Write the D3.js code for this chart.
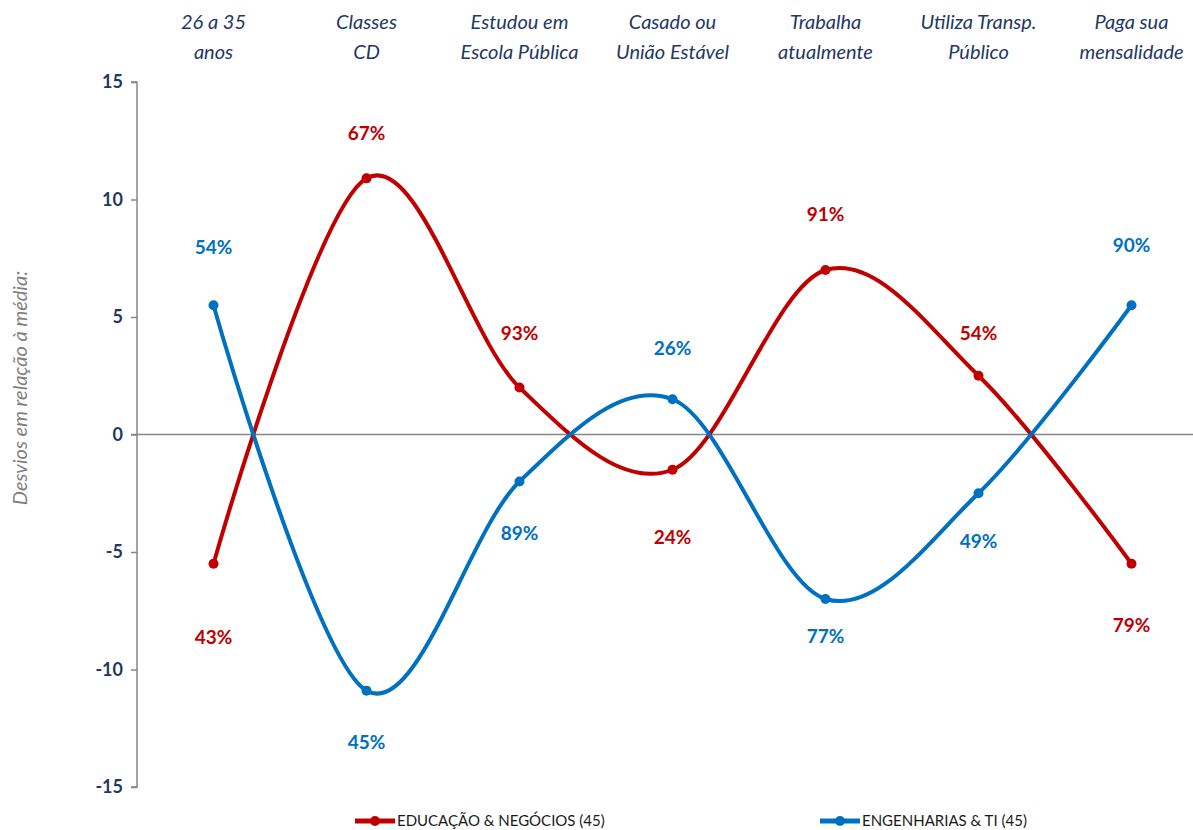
<!DOCTYPE html>
<html>
<head>
<meta charset="utf-8">
<script src="https://d3js.org/d3.v7.min.js"></script>
<style>
  body { margin: 0; background: #fff; }
  svg { display: block; font-family: Lato, "Open Sans", sans-serif; }
</style>
</head>
<body>
<svg id="chart" width="1193" height="830"></svg>
<script>
// ── Data ──
const categories = [
  ['26 a 35', 'anos'],
  ['Classes', 'CD'],
  ['Estudou em', 'Escola Pública'],
  ['Casado ou', 'União Estável'],
  ['Trabalha', 'atualmente'],
  ['Utiliza Transp.', 'Público'],
  ['Paga sua', 'mensalidade']
];
const eduValues = [-5.5, 10.9, 2, -1.5, 7, 2.5, -5.5];
const eduLabels = ['43%', '67%', '93%', '24%', '91%', '54%', '79%'];
const engValues = [5.5, -10.9, -2, 1.5, -7, -2.5, 5.5];
const engLabels = ['54%', '45%', '89%', '26%', '77%', '49%', '90%'];
const yTicks = [15, 10, 5, 0, -5, -10, -15];

// label offsets (layout only)
const eduLabelDy = [75, -43, -52, 69, -54, -41, 63];
const engLabelDy = [-56, 53, 54, -49, 39, 50, -58];

const series = [
  { name: 'EDUCAÇÃO & NEGÓCIOS (45)', values: eduValues, labels: eduLabels, dy: eduLabelDy, color: '#C00000', legendX: 355 },
  { name: 'ENGENHARIAS & TI (45)', values: engValues, labels: engLabels, dy: engLabelDy, color: '#0070C0', legendX: 820 }
];

const svg = d3.select('#chart');
const x = d3.scalePoint().domain(d3.range(categories.length)).range([137, 1208]).padding(0.5);
const y = d3.scaleLinear().domain([-15, 15]).range([787, 82]);

// y axis
const yAxis = d3.axisLeft(y).tickValues(yTicks).tickSize(6).tickPadding(8).tickFormat(d => String(d));
const ya = svg.append('g').attr('transform', 'translate(137,0)').call(yAxis);
ya.select('.domain').attr('stroke', '#868686').attr('stroke-width', 1.5).attr('d', `M-6,${y(15)}H0V${y(-15)}H-6`);
ya.selectAll('.tick line').attr('stroke', '#868686').attr('stroke-width', 1.5);
ya.selectAll('.tick text').attr('fill', '#1F3864').attr('font-size', 18).attr('font-weight', 700)
  .attr('font-family', 'Lato, sans-serif');

// zero line
svg.append('line').attr('x1', 131).attr('x2', 1193).attr('y1', y(0)).attr('y2', y(0))
  .attr('stroke', '#868686').attr('stroke-width', 1.5);

// axis title
svg.append('text').attr('transform', `translate(27,388) rotate(-90)`)
  .attr('text-anchor', 'middle').attr('fill', '#7F7F7F').attr('font-size', 20).attr('font-style', 'italic')
  .text('Desvios em relação à média:');

// category labels on top
const cat = svg.append('g').selectAll('text').data(categories).enter().append('text')
  .attr('text-anchor', 'middle').attr('fill', '#1F3864').attr('font-size', 20).attr('font-style', 'italic');
cat.each(function(d, i) {
  const t = d3.select(this);
  d.forEach((line, j) => {
    t.append('tspan').attr('x', x(i)).attr('y', 29 + j * 30).text(line);
  });
});

// lines
const line = d3.line().x((d, i) => x(i)).y(d => y(d)).curve(d3.curveCardinal.tension(0));
series.forEach(s => {
  svg.append('path').attr('d', line(s.values)).attr('fill', 'none')
    .attr('stroke', s.color).attr('stroke-width', 4).attr('stroke-linecap', 'round');
  svg.append('g').selectAll('circle').data(s.values).enter().append('circle')
    .attr('cx', (d, i) => x(i)).attr('cy', d => y(d)).attr('r', 5).attr('fill', s.color);
  svg.append('g').selectAll('text').data(s.labels).enter().append('text')
    .attr('x', (d, i) => x(i)).attr('y', (d, i) => y(s.values[i]) + s.dy[i])
    .attr('text-anchor', 'middle').attr('dominant-baseline', 'middle')
    .attr('fill', s.color).attr('font-size', 19).attr('font-weight', 700)
    .text(d => d);

  // legend
  const lg = svg.append('g').attr('transform', `translate(${s.legendX},821)`);
  lg.append('line').attr('x1', 0).attr('x2', 40).attr('stroke', s.color).attr('stroke-width', 5);
  lg.append('circle').attr('cx', 20).attr('r', 5).attr('fill', s.color);
  lg.append('text').attr('x', 42).attr('y', 5).attr('fill', '#1A1A1A').attr('font-size', 15)
    .text(s.name);
});
</script>
</body>
</html>
